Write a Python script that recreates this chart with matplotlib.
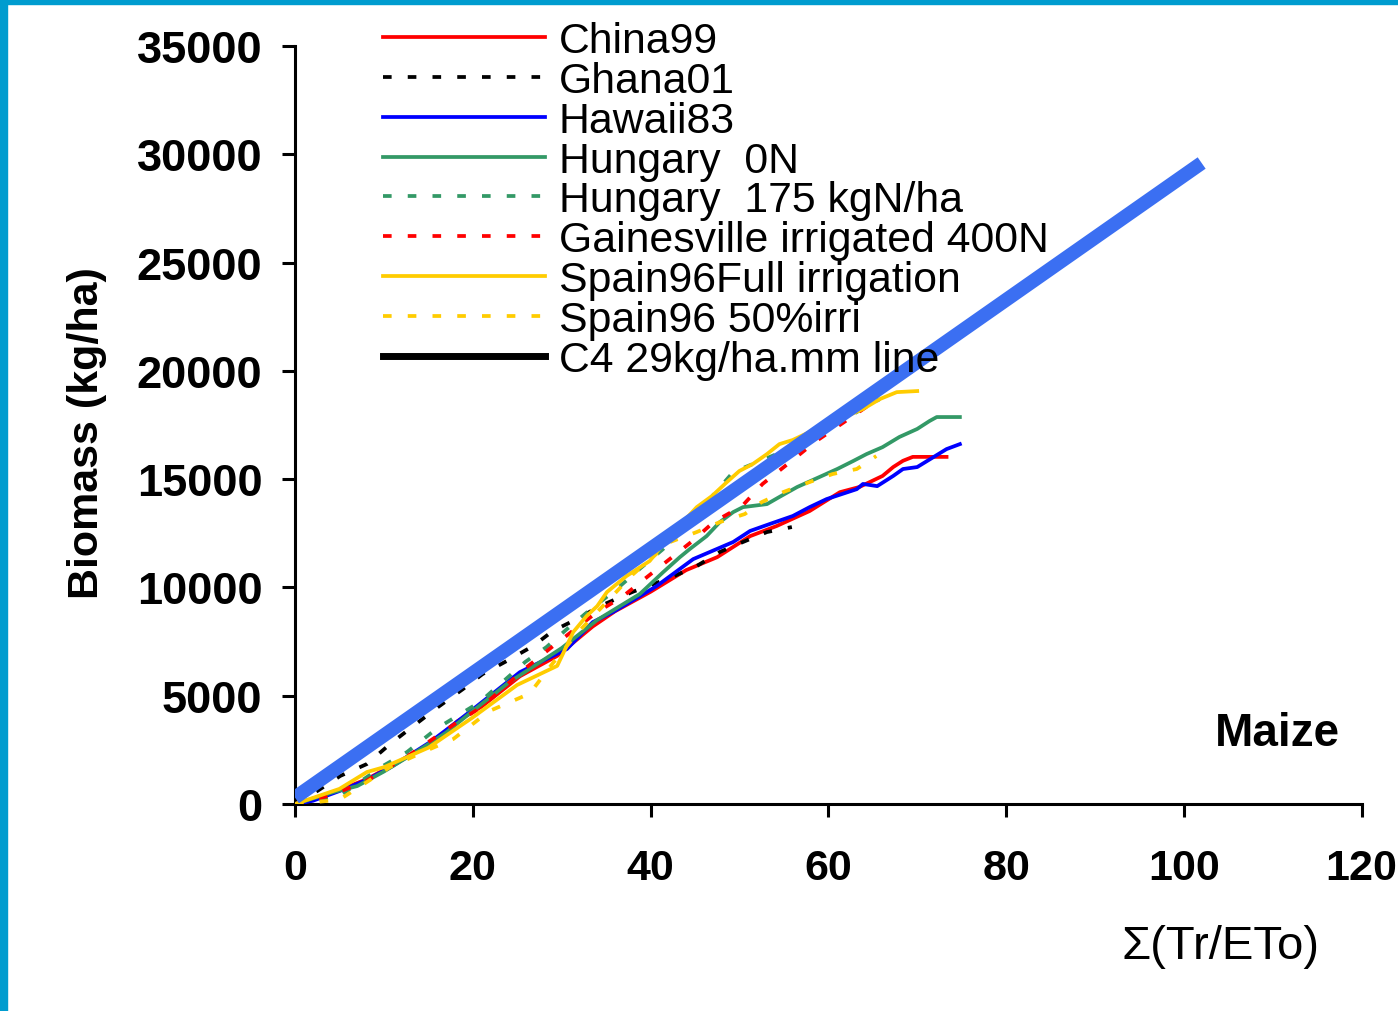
"""Maize biomass against cumulated Tr/ETo, with the C4 reference line."""

import matplotlib
matplotlib.use('agg')
import matplotlib.pyplot as plt
from matplotlib.lines import Line2D
from matplotlib.patches import Rectangle

plt.rcParams['font.family'] = ['Liberation Sans', 'DejaVu Sans']

# series: x = sum(Tr/ETo), y = biomass kg/ha
china99_x = [0, 2, 5, 8.1, 11, 15.5, 18.3, 21, 25.3, 29.5, 33.5, 36, 40, 44, 47.5,
             51.2, 54.2, 57.9, 61.3, 63.5, 66.1, 67.3, 68.4, 69.5, 73.3]
china99_y = [0, 200, 650, 1150, 1800, 2860, 3830, 4500, 5900, 6840, 8200, 8900, 9800,
             10800, 11400, 12370, 12840, 13530, 14400, 14640, 15150, 15560, 15850,
             16030, 16030]

ghana01_x = [0, 2.5, 5.1, 8.1, 10.7, 13.3, 16.1, 18.9, 21.1, 23.8, 26.8, 29, 31.7,
             34.3, 38, 42.4, 45.2, 47.8, 50.4, 53.1, 55.9]
ghana01_y = [0, 600, 1300, 1850, 2770, 3600, 4480, 5310, 6000, 6600, 7300, 7990, 8540,
             9140, 9800, 10480, 10990, 11640, 12100, 12560, 12790]

hawaii83_x = [0, 2, 5, 8, 11, 15.2, 18.2, 20.5, 25.3, 30.6, 33.5, 35.8, 38.8, 40.7,
              44.8, 49.3, 51.2, 53.4, 56, 57.9, 59.8, 63.2, 63.9, 65.5, 67.3, 68.4,
              70, 73.3, 74.8]
hawaii83_y = [0, 150, 600, 1100, 1760, 2860, 3790, 4530, 6090, 7160, 8400, 8870, 9600,
              10070, 11310, 12100, 12610, 12930, 13300, 13710, 14080, 14540, 14780,
              14680, 15150, 15470, 15560, 16390, 16620]

hungary0n_x = [0, 4.3, 7, 10, 14, 17, 20, 24, 27, 30, 34, 38.8, 41.4, 43.3, 44.4, 46.3,
               47.8, 49.3, 50.4, 53.1, 54.5, 56.5, 59, 61, 62.8, 64.3, 66.1, 68, 70,
               71.4, 72.2, 74.8]
hungary0n_y = [0, 550, 830, 1500, 2500, 3300, 4300, 5600, 6400, 7200, 8500, 9700,
               10700, 11400, 11770, 12370, 13020, 13480, 13710, 13850, 14180, 14640,
               15100, 15470, 15840, 16160, 16480, 16950, 17320, 17690, 17870, 17870]

hungary175_x = [0, 5, 9.9, 12.6, 16, 20.8, 25.9, 28.3, 30.6, 33, 36.2, 38.5, 41.4, 45,
                49.3, 51.5, 55, 60, 63.2, 65.8]
hungary175_y = [0, 370, 1760, 2400, 3500, 4710, 6560, 7250, 8080, 8900, 9930, 10760,
                11770, 13300, 15330, 15700, 16300, 17400, 18100, 18700]

gainesville_x = [0, 4, 8, 13, 18.3, 21, 26.1, 28.9, 34, 36.8, 39.6, 44.7, 47.1, 50.3,
                 52.6, 55.7, 58.5, 62, 64.5]
gainesville_y = [0, 400, 1060, 2300, 3790, 4480, 6330, 7250, 8870, 9560, 10480, 12140,
                 13020, 13760, 14780, 15790, 16720, 17700, 18400]

spain_full_x = [0, 5, 8.1, 10, 15, 20, 25, 29.5, 31.3, 32.8, 34, 35.1, 37.3, 39.9, 42,
                45.2, 46.9, 48.6, 50, 51.5, 53.1, 54.5, 56, 58, 60, 62, 63.9, 65.8,
                67.7, 70]
spain_full_y = [0, 700, 1480, 1700, 2600, 4000, 5500, 6380, 7940, 8680, 9140, 9790,
                10530, 11220, 12300, 13710, 14220, 14870, 15380, 15700, 16160, 16620,
                16810, 17200, 17600, 17900, 18240, 18700, 19020, 19070]

spain_50_x = [0, 5, 10.7, 15.2, 17.8, 21.9, 26.4, 29, 32, 35, 38, 42.2, 45.2, 47.8,
              50.6, 52.5, 54.9, 57.9, 60.5, 63.2, 65.4]
spain_50_y = [0, 200, 1710, 2540, 3000, 4300, 5100, 6500, 8000, 9300, 10600, 12100,
              12560, 13020, 13390, 13940, 14400, 14870, 15240, 15470, 16070]

c4_x = [0, 102]
c4_y = [300, 29600]

x_ticks = [0, 20, 40, 60, 80, 100, 120]
y_ticks = [0, 5000, 10000, 15000, 20000, 25000, 30000, 35000]

DOT = (0, (2.3, 4.3))
SERIES = [
    ('China99', china99_x, china99_y, '#ff0000', '-'),
    ('Ghana01', ghana01_x, ghana01_y, '#000000', DOT),
    ('Hawaii83', hawaii83_x, hawaii83_y, '#0000ff', '-'),
    ('Hungary  0N', hungary0n_x, hungary0n_y, '#339966', '-'),
    ('Hungary  175 kgN/ha', hungary175_x, hungary175_y, '#339966', DOT),
    ('Gainesville irrigated 400N', gainesville_x, gainesville_y, '#ff0000', DOT),
    ('Spain96Full irrigation', spain_full_x, spain_full_y, '#ffcc00', '-'),
    ('Spain96 50%irri', spain_50_x, spain_50_y, '#ffcc00', DOT),
]

fig = plt.figure(figsize=(13.98, 10.12), dpi=100)
ax = fig.add_axes([0.211, 0.2045, 0.763, 0.749])

handles = []
for label, xs, ys, color, style in SERIES:
    line, = ax.plot(xs, ys, color=color, lw=2.7, linestyle=style, zorder=3)
    handles.append(line)
ax.plot(c4_x, c4_y, color='#3b6ff2', lw=10, solid_capstyle='butt', zorder=5)
handles.append(Line2D([0], [0], color='black', lw=5))
labels = [s[0] for s in SERIES] + ['C4 29kg/ha.mm line']

ax.set_xlim(0, 120)
ax.set_ylim(0, 35000)
ax.set_xticks(x_ticks)
ax.set_yticks(y_ticks)
ax.tick_params(axis='both', direction='out', length=9.5, width=2.2)
ax.tick_params(axis='x', pad=22, labelsize=31)
ax.tick_params(axis='y', pad=14, labelsize=32.5)
for lab in ax.get_xticklabels() + ax.get_yticklabels():
    lab.set_fontweight('bold')
for side in ('top', 'right'):
    ax.spines[side].set_visible(False)
for side in ('left', 'bottom'):
    ax.spines[side].set_linewidth(2.2)

fig.text(0.062, 0.572, 'Biomass (kg/ha)', rotation=90, fontsize=31, fontweight='bold',
         ha='center', va='center')
fig.text(0.873, 0.064, 'Σ(Tr/ETo)', fontsize=34, ha='center', va='center')
ax.text(110.5, 3300, 'Maize', fontsize=33, fontweight='bold', ha='center', va='center')

fig.legend(handles, labels, loc='upper left', bbox_to_anchor=(0.274, 0.978),
           frameon=False, fontsize=30.8, handlelength=3.78, handletextpad=0.33,
           labelspacing=-0.005, borderpad=0, borderaxespad=0)

# blue frame on the left and top edges
fig.patches.append(Rectangle((0, 0), 7 / 1398, 1, transform=fig.transFigure,
                             color='#009ccf', zorder=10))
fig.patches.append(Rectangle((0, 1 - 5 / 1012), 1, 5 / 1012, transform=fig.transFigure,
                             color='#009ccf', zorder=10))

fig.savefig('out.png', dpi=100)
